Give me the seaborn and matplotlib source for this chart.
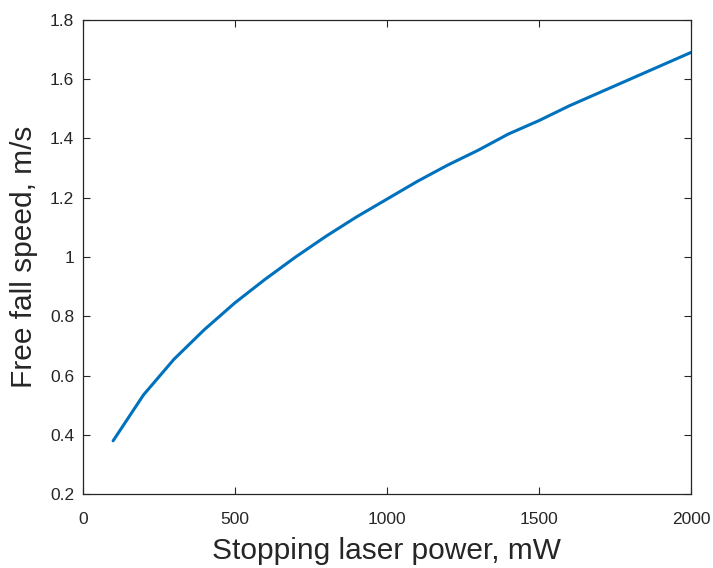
import numpy as np
import pandas as pd
import matplotlib
matplotlib.use("Agg")
import matplotlib.pyplot as plt
from matplotlib.ticker import FuncFormatter
import seaborn as sns

# stopping laser power (mW) and the resulting free fall speed (m/s)
power_mw = [100, 200, 300, 400, 500, 600, 700, 800, 900, 1000,
            1100, 1200, 1300, 1400, 1500, 1600, 1700, 1800, 1900, 2000]
speed_ms = [0.38, 0.535, 0.655, 0.755, 0.845, 0.925, 1.0, 1.07, 1.135, 1.195,
            1.255, 1.31, 1.36, 1.415, 1.46, 1.51, 1.555, 1.60, 1.645, 1.69]

x_ticks = [0, 500, 1000, 1500, 2000]
y_ticks = [0.2, 0.4, 0.6, 0.8, 1.0, 1.2, 1.4, 1.6, 1.8]

df = pd.DataFrame({"power": power_mw, "speed": speed_ms})

sns.set_style("ticks")
plt.rcParams["font.family"] = ["Liberation Sans", "DejaVu Sans"]

fig = plt.figure(figsize=(7.13, 5.68), dpi=100)
ax = fig.add_axes([0.116, 0.130, 0.853, 0.835])

sns.lineplot(data=df, x="power", y="speed", ax=ax, color="#0072BD", linewidth=2.2)

ax.set_xlim(0, 2000)
ax.set_ylim(0.2, 1.8)
ax.set_xticks(x_ticks)
ax.set_yticks(y_ticks)
ax.yaxis.set_major_formatter(FuncFormatter(lambda v, p: "%g" % v))

# MATLAB style box with inward ticks on all sides
for s in ax.spines.values():
    s.set_visible(True)
    s.set_color("#262626")
    s.set_linewidth(0.9)
ax.tick_params(direction="in", top=True, right=True, length=5, width=0.8,
               color="#262626", labelsize=12.5, labelcolor="#262626")
ax.tick_params(axis="x", pad=13)
ax.tick_params(axis="y", pad=6)

ax.set_xlabel("Stopping laser power, mW", fontsize=21.5, color="#262626", labelpad=7)
ax.set_ylabel("Free fall speed, m/s", fontsize=21.5, color="#262626", labelpad=9)

fig.savefig("out.png", dpi=100, facecolor="white")
